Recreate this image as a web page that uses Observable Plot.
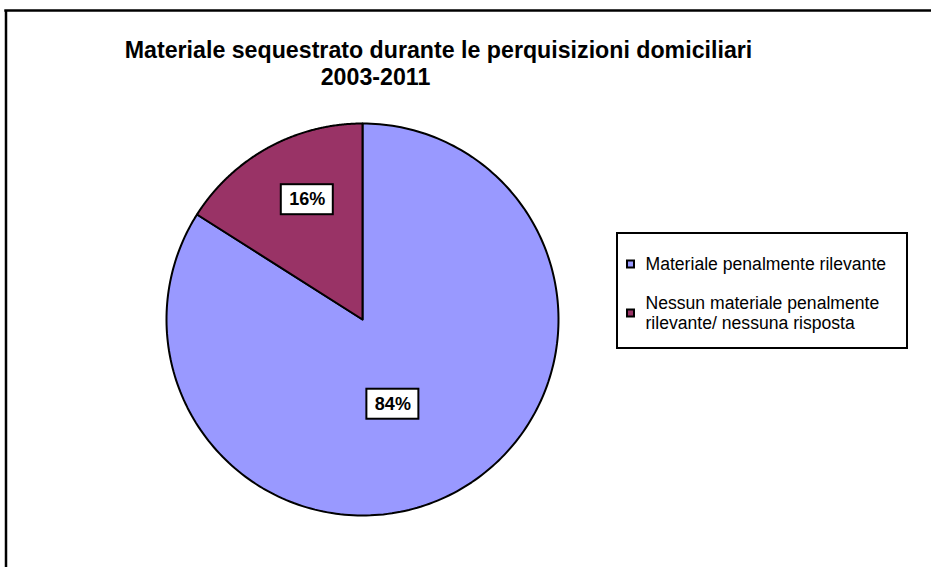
<!DOCTYPE html>
<html>
<head>
<meta charset="utf-8">
<script src="https://cdn.jsdelivr.net/npm/d3@7"></script>
<script src="https://cdn.jsdelivr.net/npm/@observablehq/plot@0.6"></script>
<style>
  html, body { margin: 0; padding: 0; background: #fff; }
  svg { display: block; }
</style>
</head>
<body>
<div id="chart"></div>
<script>
// ---- data ----
const titleLines = ["Materiale sequestrato durante le perquisizioni domiciliari", "2003-2011"];
const categories = ["Materiale penalmente rilevante", "Nessun materiale penalmente rilevante/ nessuna risposta"];
const legendLines = [["Materiale penalmente rilevante"], ["Nessun materiale penalmente", "rilevante/ nessuna risposta"]];
const values = [84, 16];
const colors = ["#9999FF", "#993366"];

// ---- layout ----
const W = 931, H = 567;
const cx = 362, cy = 319, R = 196;
const font = "Arial, 'Liberation Sans', sans-serif";

const arcs = d3.pie().sort(null).value(d => d)(values);
const total = d3.sum(values);

// polygon points for each slice
const slicePts = [];
arcs.forEach((a, i) => {
  slicePts.push({slice: i, x: cx, y: cy, color: colors[i]});
  const n = 240;
  for (let k = 0; k <= n; k++) {
    const t = a.startAngle + (a.endAngle - a.startAngle) * k / n;
    slicePts.push({slice: i, x: cx + R * Math.sin(t), y: cy - R * Math.cos(t), color: colors[i]});
  }
  slicePts.push({slice: i, x: cx, y: cy, color: colors[i]});
});

// label positions from mid-angle (with small placement nudges)
const labelFrac = [0.47, 0.68];
const nudge = [[-14, 4], [9, -3]];
const labels = arcs.map((a, i) => {
  const m = (a.startAngle + a.endAngle) / 2;
  const r = R * labelFrac[i];
  return {text: Math.round(values[i] / total * 100) + "%", x: cx + r * Math.sin(m) + nudge[i][0], y: cy - r * Math.cos(m) + nudge[i][1]};
});

// title rows
const titleX = [438, 375];
const titleRows = titleLines.map((t, i) => ({text: t, x: titleX[i], y: 50 + i * 27.5}));

// legend rows
const legItemY = [264, 303];
const legendText = [];
legendLines.forEach((lines, i) => lines.forEach((t, j) => legendText.push({text: t, y: legItemY[i] + j * 20})));
const legendMarks = categories.map((c, i) => ({cat: c, color: colors[i], y: i === 0 ? 264 : 313}));

const chart = Plot.plot({
  width: W,
  height: H,
  margin: 0,
  x: {domain: [0, W], range: [0, W], axis: null},
  y: {domain: [0, H], range: [0, H], axis: null},
  color: {type: "identity"},
  style: {fontFamily: font, background: "#fff"},
  marks: [
    // outer frame (left and top edges visible)
    Plot.ruleX([5.5], {y1: 10, y2: H + 5, stroke: "black", strokeWidth: 2.5}),
    Plot.ruleY([10], {x1: 4.3, x2: W + 5, stroke: "black", strokeWidth: 2.5}),
    // title
    Plot.text(titleRows, {x: "x", y: "y", text: "text", fontSize: 23.2, fontWeight: "bold", fill: "black"}),
    // pie slices
    Plot.line(slicePts, {x: "x", y: "y", z: "slice", fill: "color", stroke: "black", strokeWidth: 2, strokeLinejoin: "round", curve: "linear"}),
    // label boxes
    Plot.rect(labels, {x1: d => d.x - 26, x2: d => d.x + 26, y1: d => d.y - 15, y2: d => d.y + 15, fill: "white", stroke: "black", strokeWidth: 2}),
    Plot.text(labels, {x: "x", y: "y", text: "text", fontSize: 18, fontWeight: "bold", fill: "black"}),
    // legend box
    Plot.rect([0], {x1: 617, x2: 907, y1: 233, y2: 348, fill: "white", stroke: "black", strokeWidth: 2}),
    Plot.rect(legendMarks, {x1: 627, x2: 634, y1: d => d.y - 3.5, y2: d => d.y + 3.5, fill: "color", stroke: "black", strokeWidth: 2}),
    Plot.text(legendText, {x: 645, y: "y", text: "text", fontSize: 17.6, textAnchor: "start", fill: "black"})
  ]
});
document.getElementById("chart").appendChild(chart);
</script>
</body>
</html>
